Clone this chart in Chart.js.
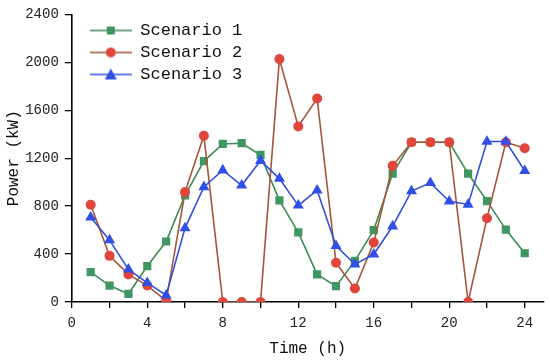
<!DOCTYPE html>
<html>
<head>
<meta charset="utf-8">
<script src="https://cdn.jsdelivr.net/npm/chart.js@4/dist/chart.umd.min.js"></script>
<style>
  html, body { margin: 0; padding: 0; background: #fff; }
  #wrap { width: 550px; height: 361px; }
</style>
</head>
<body>
<div id="wrap"><canvas id="power"></canvas></div>
<script>
// hourly power for each scenario
const hours = [1, 2, 3, 4, 5, 6, 7, 8, 9, 10, 11, 12, 13, 14, 15, 16, 17, 18, 19, 20, 21, 22, 23, 24];
const scenario1 = [250, 137, 67, 300, 505, 890, 1176, 1319, 1325, 1227, 848, 581, 230, 132, 343, 600, 1072, 1333, 1333, 1333, 1072, 842, 604, 407];
const scenario2 = [811, 385, 230, 137, 10, 918, 1387, 0, 0, 0, 2027, 1465, 1698, 328, 112, 497, 1137, 1333, 1333, 1333, 0, 699, 1333, 1283];
const scenario3 = [707, 516, 272, 160, 56, 617, 960, 1100, 974, 1179, 1030, 806, 932, 469, 314, 398, 632, 926, 994, 840, 814, 1339, 1339, 1095];
const seriesNames = ['Scenario 1', 'Scenario 2', 'Scenario 3'];
const xTicks = [0, 2, 4, 6, 8, 10, 12, 14, 16, 18, 20, 22, 24];   // labels only on every 4 h

const FONT = "'Liberation Mono', monospace";

function toPoints(values) {
    return hours.map((h, i) => ({ x: h, y: values[i] }));
}

// little legend icon: a line with the marker in the middle
function legendIcon(lineColor, markColor, shape) {
    const c = document.createElement('canvas');
    c.width = 42; c.height = 14;
    const g = c.getContext('2d');
    g.strokeStyle = lineColor;
    g.lineWidth = 1.6;
    g.beginPath(); g.moveTo(0, 7); g.lineTo(42, 7); g.stroke();
    g.fillStyle = markColor;
    g.beginPath();
    if (shape === 'rect') {
        g.rect(17, 3, 8, 8);
    } else if (shape === 'circle') {
        g.arc(21, 7, 5, 0, Math.PI * 2);
    } else {
        g.moveTo(21, 1); g.lineTo(27, 12); g.lineTo(15, 12); g.closePath();
    }
    g.fill();
    return c;
}

const icons = [
    legendIcon('#3e8a57', '#3f9660', 'rect'),
    legendIcon('#a4563a', '#e0463a', 'circle'),
    legendIcon('#3450d8', '#2f4fe6', 'triangle')
];

// push the in-plot legend down/right from the corner of the axes
const legendShift = {
    id: 'legendShift',
    afterLayout(chart) {
        if (chart.legend) {
            chart.legend.top += 17;
            chart.legend.left += 13;
        }
    }
};

const data = {
    datasets: [{
        label: seriesNames[0],
        data: toPoints(scenario1),
        borderColor: '#3e8a57',
        backgroundColor: '#3f9660',
        pointBackgroundColor: '#3f9660',
        pointBorderWidth: 0,
        pointStyle: 'rect',
        pointRadius: 5.8,
        borderWidth: 1.6,
        order: 2
    }, {
        label: seriesNames[1],
        data: toPoints(scenario2),
        borderColor: '#a4563a',
        backgroundColor: '#e0463a',
        pointBackgroundColor: '#e0463a',
        pointBorderWidth: 0,
        pointStyle: 'circle',
        pointRadius: 5,
        borderWidth: 1.6,
        order: 1
    }, {
        label: seriesNames[2],
        data: toPoints(scenario3),
        borderColor: '#3450d8',
        backgroundColor: '#2f4fe6',
        pointBackgroundColor: '#2f4fe6',
        pointBorderWidth: 0,
        pointStyle: 'triangle',
        pointRadius: 6.4,
        borderWidth: 1.6,
        order: 0
    }]
};

const config = {
    type: 'line',
    data: data,
    plugins: [legendShift],
    options: {
        responsive: true,
        maintainAspectRatio: false,
        animation: false,
        layout: { padding: { top: 10, right: 3, left: 0, bottom: 3 } },
        plugins: {
            tooltip: { enabled: false },
            legend: {
                position: 'chartArea',
                align: 'start',
                labels: {
                    font: { family: FONT, size: 17 },
                    color: '#111',
                    usePointStyle: true,
                    pointStyleWidth: 42,
                    padding: 5,
                    sort: (a, b) => a.datasetIndex - b.datasetIndex,
                    generateLabels: function (chart) {
                        const items = Chart.defaults.plugins.legend.labels.generateLabels(chart);
                        items.forEach(it => { it.pointStyle = icons[it.datasetIndex]; });
                        return items;
                    }
                }
            }
        },
        scales: {
            x: {
                type: 'linear',
                min: 0,
                max: 25,
                afterBuildTicks: s => { s.ticks = xTicks.map(v => ({ value: v })); },
                ticks: {
                    autoSkip: false,
                    maxRotation: 0,
                    color: '#222',
                    font: { family: FONT, size: 14 },
                    padding: 7,
                    callback: v => (v % 4 === 0 ? String(v) : '')
                },
                grid: { drawOnChartArea: false, color: '#000', tickLength: 6, lineWidth: 1.3 },
                border: { color: '#000', width: 1.6 },
                title: { display: true, text: 'Time (h)', color: '#111', font: { family: FONT, size: 16 }, padding: { top: 0, bottom: 0 } }
            },
            y: {
                min: 0,
                max: 2400,
                ticks: {
                    stepSize: 400,
                    color: '#222',
                    font: { family: FONT, size: 14 },
                    padding: 6,
                    callback: v => String(v)
                },
                grid: { drawOnChartArea: false, color: '#000', tickLength: 7, lineWidth: 1.3 },
                border: { color: '#000', width: 1.6 },
                title: { display: true, text: 'Power (kW)', color: '#111', font: { family: FONT, size: 16 }, padding: { top: 4, bottom: -4 } }
            }
        }
    }
};

let powerChart = new Chart(document.getElementById('power'), config);
</script>
</body>
</html>
